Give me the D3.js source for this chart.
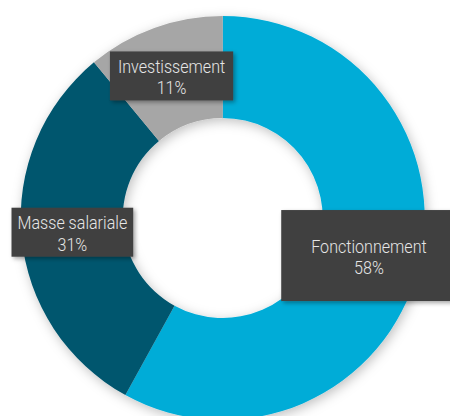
<!DOCTYPE html>
<html>
<head>
<meta charset="utf-8">
<script src="https://cdn.jsdelivr.net/npm/d3@7"></script>
<style>
  body { margin: 0; background: #fff; overflow: hidden; }
</style>
</head>
<body>
<div class="donut_Container"></div>
<script>
// data
const categories = ['Fonctionnement', 'Masse salariale', 'Investissement'];
const values = [58, 31, 11];
const colors = ['#00acd7', '#00566e', '#a6a6a6'];
// padding around label text (x, y) per slice
const padX = [30, 6, 8];
const padY = [26, 5, 5];

const width = 450, height = 416;
const cx = 222.7, cy = 218;
const outerR = 202, innerR = 100;
const squeeze = 0.87; // fake condensed font

const svg = d3.select('.donut_Container')
  .append('svg')
  .attr('width', width)
  .attr('height', height);

const defs = svg.append('defs');
defs.append('filter').attr('id', 'ringShadow')
  .attr('x', '-20%').attr('y', '-20%').attr('width', '140%').attr('height', '140%')
  .append('feDropShadow')
  .attr('dx', 2).attr('dy', 3).attr('stdDeviation', 6)
  .attr('flood-color', '#000').attr('flood-opacity', 0.25);
defs.append('filter').attr('id', 'boxShadow')
  .attr('x', '-20%').attr('y', '-20%').attr('width', '140%').attr('height', '150%')
  .append('feDropShadow')
  .attr('dx', 2).attr('dy', 2).attr('stdDeviation', 2)
  .attr('flood-color', '#000').attr('flood-opacity', 0.35);

const data = categories.map((c, i) => ({ name: c, value: values[i], i: i }));

const pie = d3.pie().sort(null).value(d => d.value);
const arc = d3.arc().innerRadius(innerR).outerRadius(outerR);
const arcs = pie(data);

const g = svg.append('g')
  .attr('transform', `translate(${cx},${cy})`);

g.append('g')
  .attr('filter', 'url(#ringShadow)')
  .selectAll('path')
  .data(arcs)
  .enter()
  .append('path')
  .attr('d', arc)
  .attr('fill', d => colors[d.data.i]);

// labels at the centroid of each slice
const labels = g.selectAll('.label')
  .data(arcs)
  .enter()
  .append('g')
  .attr('class', 'label')
  .attr('transform', d => `translate(${arc.centroid(d)})`);

const box = labels.append('rect')
  .attr('fill', '#404040')
  .attr('filter', 'url(#boxShadow)');

const txt = labels.append('text')
  .attr('text-anchor', 'middle')
  .attr('fill', '#e6e6e6')
  .style('font-family', 'Roboto, sans-serif')
  .style('font-weight', 300)
  .style('font-size', '18.5px')
  .attr('transform', `scale(${squeeze},1)`);

txt.append('tspan').attr('x', 0).attr('y', -3).text(d => d.data.name);
txt.append('tspan').attr('x', 0).attr('y', 18.5).text(d => d.data.value + '%');

labels.each(function(d) {
  const t = d3.select(this).select('text').node();
  const bb = t.getBBox();
  const w = bb.width * squeeze + 2 * padX[d.data.i];
  const h = 49 + 2 * (padY[d.data.i] - 5);
  d3.select(this).select('rect')
    .attr('x', -w / 2)
    .attr('y', -h / 2)
    .attr('width', w)
    .attr('height', h);
});
</script>
</body>
</html>
